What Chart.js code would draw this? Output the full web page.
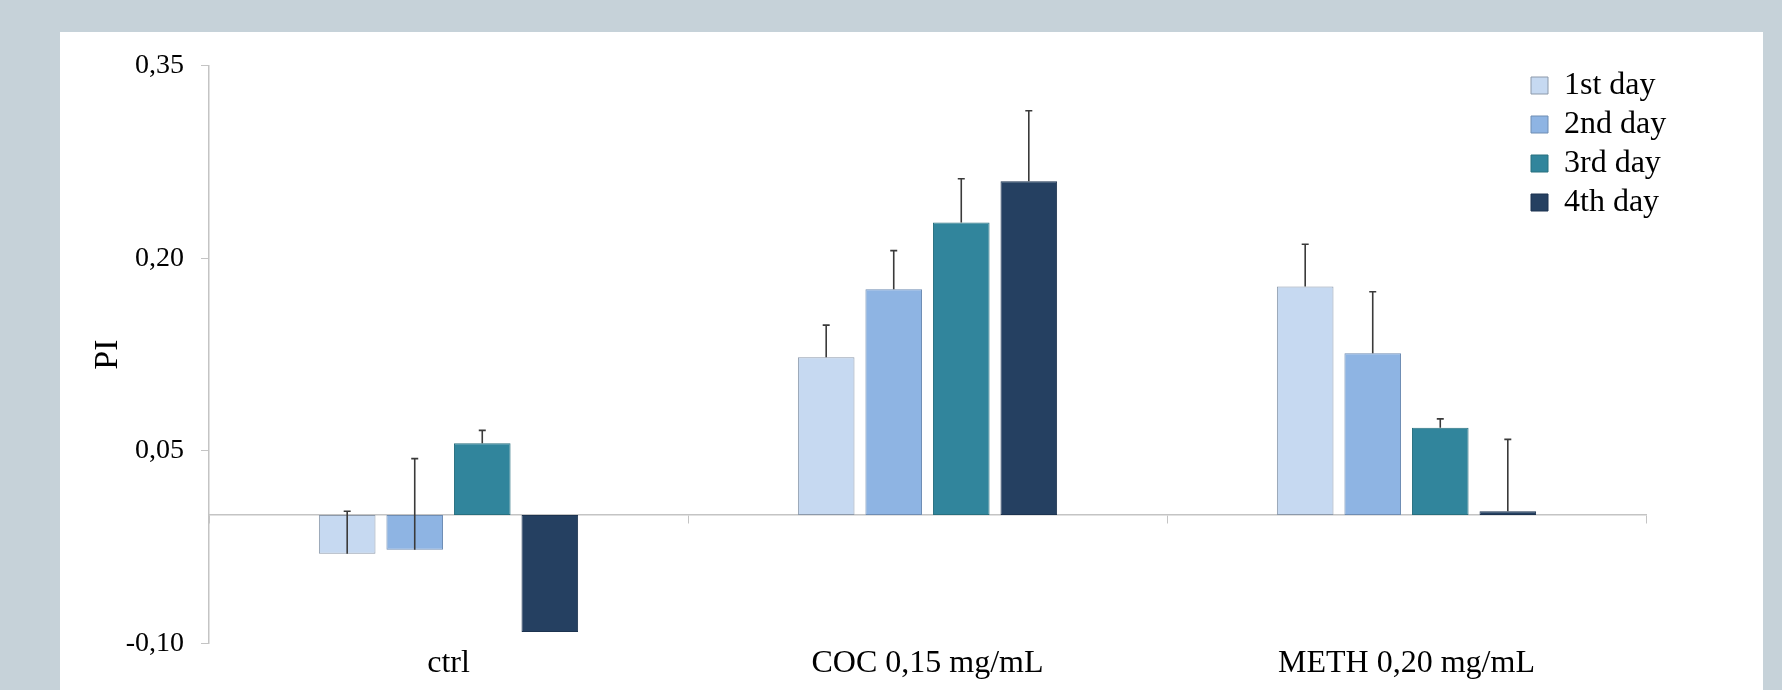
<!DOCTYPE html>
<html>
<head>
<meta charset="utf-8">
<script src="https://cdn.jsdelivr.net/npm/chart.js@4.4.1/dist/chart.umd.min.js"></script>
<style>
  html, body { margin: 0; padding: 0; background: #c6d2d9; width: 1782px; height: 690px; overflow: hidden; }
  #panel { position: absolute; left: 60px; top: 32px; width: 1703px; height: 658px; background: #ffffff; }
</style>
</head>
<body>
<div id="panel"><canvas id="chart" width="1703" height="658"></canvas></div>
<script>
const categories = ['ctrl', 'COC 0,15 mg/mL', 'METH 0,20 mg/mL']
const dayLabels = ['1st day', '2nd day', '3rd day', '4th day']
const day1 = [-0.030, 0.123, 0.178]
const day2 = [-0.027, 0.176, 0.126]
const day3 = [0.056, 0.228, 0.068]
const day4 = [-0.091, 0.260, 0.003]
const day1Err = [0.033, 0.025, 0.033]
const day2Err = [0.071, 0.030, 0.048]
const day3Err = [0.010, 0.034, 0.007]
const day4Err = [0, 0.055, 0.056]
const yTicks = [-0.10, 0.05, 0.20, 0.35]

const fills = ['#c6d9f1', '#8eb4e3', '#31859c', '#254061']
const edges = ['#8c99aa', '#6f8db3', '#28707f', '#1c3350']
const serif = "'Liberation Serif', 'Times New Roman', serif"

const series = [day1, day2, day3, day4]
const errors = [day1Err, day2Err, day3Err, day4Err]

// error bars go up from the bar end
const errorBars = {
    id: 'errorBars',
    afterDatasetsDraw(chart) {
        const ctx = chart.ctx
        const y = chart.scales.y
        ctx.save()
        ctx.strokeStyle = '#3a3a3a'
        ctx.lineWidth = 1.6
        chart.data.datasets.forEach((ds, i) => {
            const meta = chart.getDatasetMeta(i)
            meta.data.forEach((bar, j) => {
                const err = ds.errors[j]
                if (!err) return
                const y0 = y.getPixelForValue(ds.data[j])
                const y1 = y.getPixelForValue(ds.data[j] + err)
                ctx.beginPath()
                ctx.moveTo(bar.x, y0)
                ctx.lineTo(bar.x, y1)
                ctx.moveTo(bar.x - 3.5, y1)
                ctx.lineTo(bar.x + 3.5, y1)
                ctx.stroke()
            })
        })
        ctx.restore()
    }
}

// legend floats over the plot, top right
const legendSpot = {
    id: 'legendSpot',
    beforeLayout(chart) {
        const lg = chart.legend
        if (!lg || lg._spotted) return
        const fit = lg.fit
        lg.fit = function () {
            fit.call(this)
            this._fullW = this.width
            this._fullH = this.height
            this.width = 0
        }
        lg._spotted = true
    },
    afterLayout(chart) {
        const lg = chart.legend
        lg.left = 1464
        lg.top = 30.5
        lg.width = lg._fullW
        lg.height = lg._fullH
        lg.right = lg.left + lg.width
        lg.bottom = lg.top + lg.height
    }
}

const ctx = document.getElementById('chart').getContext('2d')
new Chart(ctx, {
    type: 'bar',
    data: {
        labels: categories,
        datasets: series.map((values, i) => ({
            label: dayLabels[i],
            data: values,
            errors: errors[i],
            backgroundColor: fills[i],
            borderColor: edges[i],
            borderWidth: 1,
            borderSkipped: false,
            categoryPercentage: 0.564,
            barPercentage: 0.838
        }))
    },
    options: {
        responsive: false,
        animation: false,
        devicePixelRatio: 1,
        layout: { padding: { top: 33, right: 117, bottom: 0, left: 0 } },
        plugins: {
            tooltip: { enabled: false },
            legend: {
                position: 'right',
                align: 'start',
                labels: {
                    boxWidth: 17,
                    boxHeight: 17,
                    padding: 7,
                    color: '#000',
                    font: { family: serif, size: 32 }
                }
            }
        },
        scales: {
            x: {
                position: 'bottom',
                offset: true,
                grid: { display: false },
                border: { display: false },
                ticks: { color: '#000', padding: -3.5, font: { family: serif, size: 32, lineHeight: 1 } },
                afterFit(scale) { scale.height = 46.5 }
            },
            x2: {
                type: 'category',
                axis: 'x',
                position: { y: 0 },
                offset: true,
                grid: { display: true, offset: true, drawOnChartArea: false, tickLength: 8, color: '#c4c4c4', lineWidth: 1 },
                border: { color: '#c4c4c4', width: 1.5 },
                ticks: { display: false }
            },
            y: {
                min: -0.10,
                max: 0.35,
                afterBuildTicks(scale) { scale.ticks = yTicks.map(v => ({ value: v })) },
                grid: { display: true, drawOnChartArea: false, tickLength: 8, color: '#c4c4c4' },
                border: { color: '#c4c4c4', width: 1.5 },
                ticks: {
                    color: '#000',
                    padding: 17,
                    font: { family: serif, size: 28 },
                    callback: v => v.toFixed(2).replace('.', ',')
                },
                title: {
                    display: true,
                    text: 'PI',
                    color: '#000',
                    padding: { top: 28, bottom: 0 },
                    font: { family: serif, size: 34 }
                },
                afterFit(scale) { scale.width = 149 }
            }
        }
    },
    plugins: [errorBars, legendSpot]
})
</script>
</body>
</html>
